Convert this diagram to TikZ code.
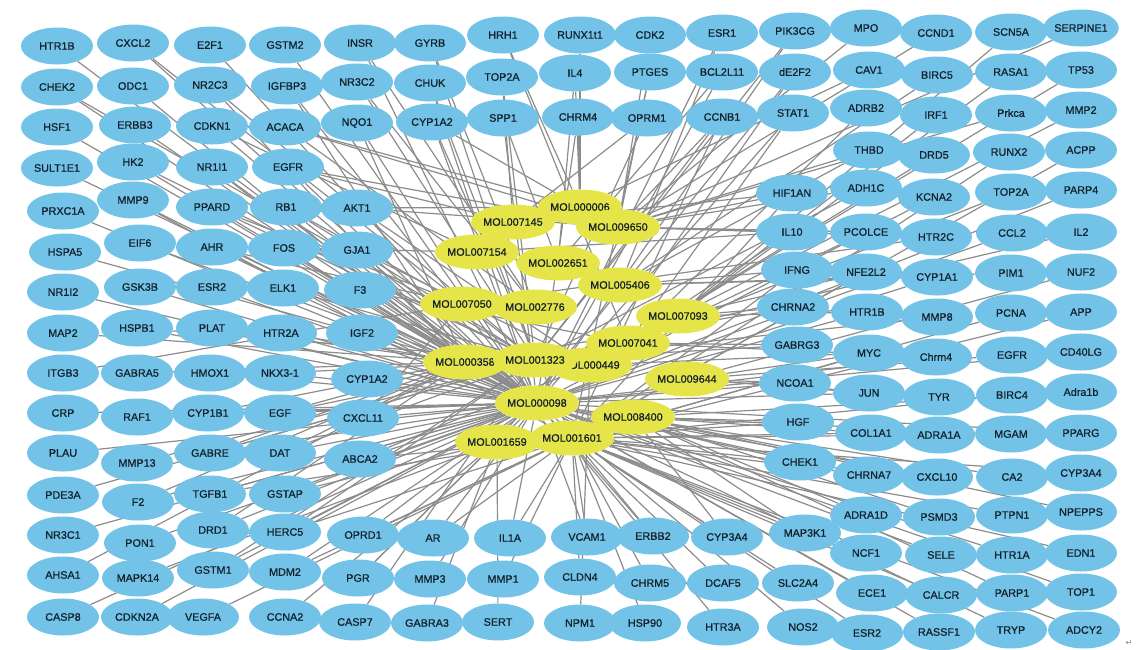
\documentclass[tikz,border=0pt]{standalone}
\usepackage{fontspec}
\setmainfont{Liberation Sans}[FakeBold=0.7]
\newfontfamily\symfont{DejaVu Sans}
\usetikzlibrary{shapes.geometric, backgrounds}

\definecolor{targetblue}{HTML}{72C3E7}
\definecolor{molyellow}{HTML}{E5E54A}
\definecolor{linkgray}{HTML}{8C8C8C}
\definecolor{labelink}{HTML}{14202B}

\begin{document}
\begin{tikzpicture}[
    x=1pt, y=-1pt,
    target/.style={
        ellipse,
        fill=targetblue,
        minimum width=72pt,
        minimum height=37pt,
        inner sep=0pt,
        text=labelink,
        font=\fontsize{10.8}{12}\selectfont
    },
    mol/.style={
        target,
        fill=molyellow,
        minimum width=74pt,
        minimum height=35pt
    },
    link/.style={
        draw=linkgray,
        line width=1.2pt
    }
]
    \useasboundingbox (0,0) rectangle (1144,649);

    % === Composés (MOL) ===
    \foreach \n/\x/\y/\t in {006/580/207/MOL000006, 7145/513/222/MOL007145,
        9650/618/227/MOL009650, 7154/477/252/MOL007154, 2651/558/263/MOL002651,
        5406/620/285/MOL005406, 7050/462/304/MOL007050, 2776/535/307/MOL002776,
        7093/678/316/MOL007093, 7041/628/343/MOL007041, 449/590/365/MOL000449,
        358/465/362/MOL000358, 1323/535/360/MOL001323, 9644/687/379/MOL009644,
        098/537/403/MOL000098, 8400/633/417/MOL008400, 1659/497/442/MOL001659,
        1601/572/438/MOL001601}
        \node[mol] (y\n) at (\x,\y) {\t};

    % === Cibles et liens vers les composés ===
    \foreach \n/\x/\y/\t/\ms in {
        htrba/57/46/HTR1B/{098}, chek2/57/87/CHEK2/{098,1323}, hsf1/57/127/HSF1/{098},
        sult/57/168/SULT1E1/{358}, prxc/63/211/PRXC1A/{098}, hspa5/65/252/HSPA5/{358},
        nr1i2/63/292/NR1I2/{098}, map2/63/333/MAP2/{358}, itgb3/63/373/ITGB3/{7050},
        crp/63/413/CRP/{098}, plau/63/453/PLAU/{098}, pde3a/63/495/PDE3A/{1323},
        nr3c1/63/535/NR3C1/{098}, ahsa1/63/575/AHSA1/{358}, casp8/63/617/CASP8/{098},
        %
        cxcl2/133/43/CXCL2/{098,1323}, odc1/133/86/ODC1/{358}, erbb3/135/125/ERBB3/{098},
        hk2/133/162/HK2/{1323,358}, mmp9/133/200/MMP9/{098,1601}, eif6/140/243/EIF6/{358},
        gsk3b/140/287/GSK3B/{098}, hspb1/137/328/HSPB1/{098,1323}, gabra5/137/373/GABRA5/{358},
        raf1/137/417/RAF1/{098}, mmp13/137/463/MMP13/{1323}, f2/138/502/F2/{098,358},
        pon1/140/543/PON1/{098}, mapk14/138/578/MAPK14/{1659}, cdkn2a/137/617/CDKN2A/{098},
        %
        e2f1/210/45/E2F1/{098}, nr2c3/210/85/NR2C3/{358,1323}, cdkn1/212/126/CDKN1/{098,7154},
        nr1i1/212/167/NR1I1/{098,358}, ppard/212/207/PPARD/{1323,098,7050},
        ahr/212/247/AHR/{098,358,7050}, esr2a/212/287/ESR2/{098}, plat/212/328/PLAT/{098,358},
        hmox1/210/373/HMOX1/{098}, cyp1b1/208/413/CYP1B1/{098,358},
        gabre/210/453/GABRE/{098,1323,358}, tgfb1/210/494/TGFB1/{098,1601},
        drd1/213/530/DRD1/{098,358}, gstm1/213/570/GSTM1/{098,1323}, vegfa/203/617/VEGFA/{1601},
        %
        gstm2/285/45/GSTM2/{098}, igfbp3/287/86/IGFBP3/{098,358}, acaca/285/127/ACACA/{2776,9650,006},
        egfra/288/167/EGFR/{7145,098,9650}, rb1/286/207/RB1/{098,7050,1323},
        fos/284/248/FOS/{098,358,7154}, elk1/283/288/ELK1/{098,1323}, htr2a/281/333/HTR2A/{358,098},
        nkx31/280/373/NKX3-1/{098,1323}, egf/280/413/EGF/{098,1323,358},
        dat/280/453/DAT/{098,358,1323}, gstap/285/494/GSTAP/{098,1659},
        herc5/285/532/HERC5/{098,1601,1323}, mdm2/285/572/MDM2/{098,1601}, ccna2/285/617/CCNA2/{1659},
        %
        insr/360/43/INSR/{098,2776}, nr3c2/357/82/NR3C2/{1323,2776}, nqo1/357/123/NQO1/{098,358},
        akt1/357/208/AKT1/{006,9650,449}, gja1/357/250/GJA1/{358,449}, f3/360/290/F3/{098,7041},
        igf2/362/333/IGF2/{098}, cyp1a2a/367/379/CYP1A2/{098}, cxcl11/363/418/CXCL11/{7050,098},
        abca2/360/459/ABCA2/{1601,098,449}, oprd1/363/535/OPRD1/{1601,098},
        pgr/358/578/PGR/{098,1659}, casp7/355/622/CASP7/{1323},
        %
        gyrb/430/43/GYRB/{2776,1323}, chuk/430/83/CHUK/{1323,098}, cyp1a2b/432/122/CYP1A2/{098,1601,006},
        ar/433/538/AR/{1601,098}, mmp3/430/579/MMP3/{098}, gabra3/427/623/GABRA3/{1659},
        hrh1/503/35/HRH1/{006,7041}, top2aa/502/77/TOP2A/{7145,1323}, spp1/503/118/SPP1/{098,2651},
        il1a/510/538/IL1A/{1601,098}, mmp1/503/579/MMP1/{1601}, sert/498/622/SERT/{1659},
        runx/580/35/RUNX1t1/{006}, il4/575/73/IL4/{006,2651}, chrm4a/578/117/CHRM4/{006,098},
        vcam1/587/537/VCAM1/{1601,098}, cldn4/580/577/CLDN4/{1601}, npm1/580/623/NPM1/{449},
        cdk2/650/35/CDK2/{9650}, ptges/650/72/PTGES/{1601,9650}, oprm1/647/118/OPRM1/{1323,7145},
        erbb2/653/536/ERBB2/{1601,098}, chrm5/650/583/CHRM5/{1601}, hsp90/645/623/HSP90/{1601},
        esr1/722/33/ESR1/{098,5406}, bcl2/722/72/BCL2L11/{098,2651}, ccnb1/722/117/CCNB1/{1323,1601,9650},
        cyp3a4a/727/537/CYP3A4/{1601,8400}, dcaf5/723/583/DCAF5/{1601}, htr3a/723/627/HTR3A/{098},
        %
        pik3cg/795/31/PIK3CG/{1323,098}, de2f2/795/72/dE2F2/{449,1659}, stat1/793/113/STAT1/{098,7041},
        hif1an/792/193/HIF1AN/{7145,9650,1601}, il10/792/232/IL10/{7154,449,9650},
        ifng/797/270/IFNG/{1601,5406}, chrna2/793/307/CHRNA2/{358,7093},
        gabrg3/797/345/GABRG3/{1323,7041}, ncoa1/795/383/NCOA1/{098,9644},
        hgf/798/422/HGF/{8400,1659}, chek1/800/462/CHEK1/{098,1601},
        map3k1/805/533/MAP3K1/{1601,8400}, slc2a4/798/583/SLC2A4/{1601}, nos2/803/627/NOS2/{098},
        %
        mpo/866/28/MPO/{9650}, cav1/869/70/CAV1/{006}, adrb2/866/108/ADRB2/{7041},
        thbd/869/150/THBD/{5406,9650}, adh1c/866/188/ADH1C/{1323,9650}, pcolce/866/232/PCOLCE/{9650,449},
        nfe2l2/866/272/NFE2L2/{1601,7093}, htr1bb/867/312/HTR1B/{098,7093},
        myc/869/353/MYC/{9644,449,1601}, jun/869/393/JUN/{098,9644}, col1a1/871/433/COL1A1/{1601,8400},
        chrna7/869/475/CHRNA7/{098,1601}, adra1d/866/515/ADRA1D/{8400}, ncf1/866/553/NCF1/{1601},
        ece1/872/593/ECE1/{098}, esr2b/867/633/ESR2/{1601},
        %
        ccnd1/936/33/CCND1/{9650}, birc5/937/75/BIRC5/{5406}, irf1/936/115/IRF1/{7093},
        drd5/934/155/DRD5/{449}, kcna2/934/197/KCNA2/{098}, htr2c/936/237/HTR2C/{7050,9650},
        cyp1a1/937/277/CYP1A1/{098,5406}, mmp8/937/317/MMP8/{1323}, chrm4b/936/357/Chrm4/{098,7041},
        tyr/939/397/TYR/{9644}, adra1a/939/435/ADRA1A/{1601}, cxcl10/937/477/CXCL10/{098,8400},
        psmd3/939/517/PSMD3/{8400}, sele/941/555/SELE/{098}, calcr/941/595/CALCR/{1601},
        rassf1/939/632/RASSF1/{098},
        %
        scn5a/1011/32/SCN5A/{7093}, rasa1/1011/72/RASA1/{7093}, prkca/1011/113/Prkca/{9650},
        runx2/1009/152/RUNX2/{1601}, top2ab/1011/192/TOP2A/{7041}, ccl2/1012/233/CCL2/{098},
        pim1/1011/273/PIM1/{5406}, pcna/1011/313/PCNA/{1601}, egfrb/1012/355/EGFR/{9644},
        birc4/1012/395/BIRC4/{1601}, mgam/1011/434/MGAM/{8400}, ca2/1012/477/CA2/{098},
        ptpn1/1012/515/PTPN1/{1601}, htr1a/1012/555/HTR1A/{098}, parp1/1012/593/PARP1/{8400},
        tryp/1011/630/TRYP/{098},
        %
        serpine1/1081/28/SERPINE1/{9650}, tp53/1081/70/TP53/{449}, mmp2/1081/110/MMP2/{7093},
        acpp/1081/150/ACPP/{1601}, parp4/1081/190/PARP4/{098}, il2/1081/232/IL2/{1323},
        nuf2/1081/272/NUF2/{9644}, app/1081/312/APP/{1601}, cd40lg/1081/352/CD40LG/{098},
        adra1b/1081/392/Adra1b/{8400}, pparg/1081/433/PPARG/{098}, cyp3a4b/1081/473/CYP3A4/{1601},
        npepps/1081/512/NPEPPS/{8400}, edn1/1081/553/EDN1/{1601}, top1/1081/592/TOP1/{098},
        adcy2/1084/630/ADCY2/{1601}}
    {
        \node[target] (\n) at (\x,\y) {\t};
        \begin{scope}[on background layer]
            \foreach \m in \ms
                \draw[link] (\n) -- (y\m);
        \end{scope}
    }

    \node[text=gray, font=\symfont\fontsize{8}{8}\selectfont] (retmark) at (1129,643) {↵};

\end{tikzpicture}
\end{document}
